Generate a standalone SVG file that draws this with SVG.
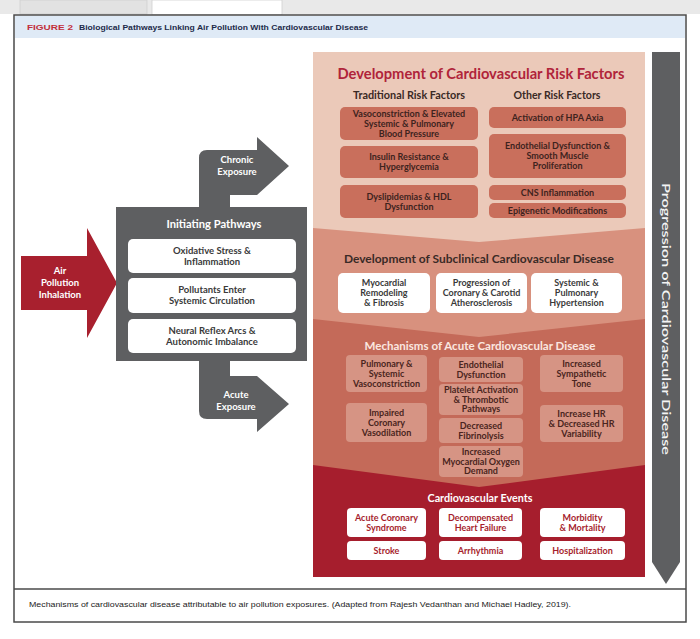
<svg xmlns="http://www.w3.org/2000/svg" width="700" height="639" viewBox="0 0 700 639">
<style>
.t{font-family:Lato,'Liberation Sans',sans-serif;font-weight:700;text-anchor:middle}
.rf{fill:#3d231e;font-size:9px}
.sc{fill:#3a3a3a;font-size:9px}
.mc{fill:#4a2520;font-size:9px}
.ev{fill:#a61e2d;font-size:9px}
.ip{fill:#3a3a3a;font-size:9.5px}
.wt{fill:#ffffff;font-size:9.5px}
.rfb{fill:#c96f5c}
.wb{fill:#ffffff}
.mb{fill:#d69484}
.gray{fill:#5e5f61}
</style>
<rect x="0" y="0" width="700" height="639" fill="#ffffff"/>
<!-- browser tab strip -->
<rect x="0" y="0" width="700" height="14" fill="#e9e9e9"/>
<rect x="20" y="0" width="127" height="14" fill="#e2e2e2" stroke="#cfcfcf" stroke-width="0.8"/>
<rect x="152" y="0" width="130" height="15" fill="#ffffff" stroke="#cfcfcf" stroke-width="0.8"/>
<!-- frame -->
<rect x="14" y="15" width="672" height="607" fill="#ffffff" stroke="#4a4a4a" stroke-width="1.5"/>
<rect x="15" y="16" width="670" height="22" fill="#dfeaf6"/>
<text x="27" y="30" font-family="'Liberation Sans',sans-serif" font-weight="700" font-size="7.5" fill="#c22f3a" textLength="46" lengthAdjust="spacingAndGlyphs">FIGURE 2</text>
<text x="79" y="30" font-family="'Liberation Sans',sans-serif" font-weight="700" font-size="8" fill="#1d2a4a" textLength="289" lengthAdjust="spacingAndGlyphs">Biological Pathways Linking Air Pollution With Cardiovascular Disease</text>
<line x1="14" y1="589" x2="686" y2="589" stroke="#4a4a4a" stroke-width="1.5"/>
<text x="29" y="607" font-family="'Liberation Sans',sans-serif" font-size="8" fill="#222222" textLength="542" lengthAdjust="spacingAndGlyphs">Mechanisms of cardiovascular disease attributable to air pollution exposures. (Adapted from Rajesh Vedanthan and Michael Hadley, 2019).</text>

<!-- bands -->
<g id="stages">
<rect x="313" y="52" width="332" height="525" fill="#a61e2d"/>
<polygon points="313,52 645,52 645,465 479,487 313,465" fill="#c46a59"/>
<polygon points="313,52 645,52 645,319 479,337 313,319" fill="#d8917e"/>
<polygon points="313,52 645,52 645,228 479,242 313,228" fill="#ebc9b9"/>
</g>

<!-- progression arrow -->
<g id="progression">
<polygon class="gray" points="652,52 680,52 680,562 666,584 652,562"/>
<text transform="translate(666,319) rotate(90)" y="4" font-family="Lato,'Liberation Sans',sans-serif" font-weight="600" text-anchor="middle" font-size="12" fill="#f4f4f4" textLength="272" lengthAdjust="spacingAndGlyphs">Progression of Cardiovascular Disease</text>
</g>

<!-- connectors (arrows) -->
<g id="connectors">
<path class="gray" d="M199,207 L199,158 Q199,150 207,150 L257,150 L257,137 L289,166 L257,195 L230,195 L230,207 Z"/>
<path class="gray" d="M199,361 L230,361 L230,376 L257,376 L289,404 L257,432 L257,419 L207,419 Q199,419 199,411 Z"/>
<path fill="#a8202e" d="M21,256 L87,256 L87,228 L117,283 L87,338 L87,310 L21,310 Z"/>
</g>
<g id="chronic-label"><text class="t wt" x="237" y="163">Chronic<tspan x="237" dy="12">Exposure</tspan></text></g>
<g id="acute-label"><text class="t wt" x="236" y="398">Acute<tspan x="236" dy="12">Exposure</tspan></text></g>
<g id="air"><text class="t wt" x="60" y="274">Air<tspan x="60" dy="12">Pollution</tspan><tspan x="60" dy="12">Inhalation</tspan></text></g>

<!-- initiating pathways -->
<g id="initiating">
<rect class="gray" x="116" y="207" width="191" height="154"/>
<text class="t" x="214" y="228" font-size="12" fill="#ffffff" textLength="95" lengthAdjust="spacingAndGlyphs">Initiating Pathways</text>
<g id="oxidative"><rect class="wb" x="128" y="239" width="168" height="34" rx="5"/><text class="t ip" x="212" y="254">Oxidative Stress &amp;<tspan x="212" dy="11">Inflammation</tspan></text></g>
<g id="pollutants"><rect class="wb" x="128" y="278" width="168" height="35" rx="5"/><text class="t ip" x="212" y="293">Pollutants Enter<tspan x="212" dy="11">Systemic Circulation</tspan></text></g>
<g id="neural"><rect class="wb" x="128" y="319" width="168" height="34" rx="5"/><text class="t ip" x="212" y="334">Neural Reflex Arcs &amp;<tspan x="212" dy="11">Autonomic Imbalance</tspan></text></g>
</g>

<!-- risk factors -->
<g id="risk-factors">
<text class="t" x="481" y="79" font-size="15" fill="#b0243a" textLength="287" lengthAdjust="spacingAndGlyphs">Development of Cardiovascular Risk Factors</text>
<text class="t" x="409" y="99" font-size="11" fill="#3a2a26" textLength="112" lengthAdjust="spacingAndGlyphs">Traditional Risk Factors</text>
<text class="t" x="557" y="99" font-size="11" fill="#3a2a26" textLength="87" lengthAdjust="spacingAndGlyphs">Other Risk Factors</text>
<g id="rf1"><rect class="rfb" x="340" y="107" width="138" height="33" rx="5"/><text class="t rf" x="409" y="117">Vasoconstriction &amp; Elevated<tspan x="409" dy="10">Systemic &amp; Pulmonary</tspan><tspan x="409" dy="10">Blood Pressure</tspan></text></g>
<g id="rf2"><rect class="rfb" x="340" y="146" width="138" height="32" rx="5"/><text class="t rf" x="409" y="160">Insulin Resistance &amp;<tspan x="409" dy="10">Hyperglycemia</tspan></text></g>
<g id="rf3"><rect class="rfb" x="340" y="185" width="138" height="33" rx="5"/><text class="t rf" x="409" y="199.5">Dyslipidemias &amp; HDL<tspan x="409" dy="10">Dysfunction</tspan></text></g>
<g id="rf4"><rect class="rfb" x="489" y="107" width="137" height="21" rx="5"/><text class="t rf" x="557.5" y="120.5">Activation of HPA Axia</text></g>
<g id="rf5"><rect class="rfb" x="489" y="134" width="137" height="44" rx="5"/><text class="t rf" x="557.5" y="149">Endothelial Dysfunction &amp;<tspan x="557.5" dy="10">Smooth Muscle</tspan><tspan x="557.5" dy="10">Proliferation</tspan></text></g>
<g id="rf6"><rect class="rfb" x="489" y="185" width="137" height="15" rx="5"/><text class="t rf" x="557.5" y="195.5">CNS Inflammation</text></g>
<g id="rf7"><rect class="rfb" x="489" y="203" width="137" height="15" rx="5"/><text class="t rf" x="557.5" y="213.5">Epigenetic Modifications</text></g>
</g>

<!-- subclinical -->
<g id="subclinical">
<text class="t" x="479" y="263" font-size="11.5" fill="#3a2a26" textLength="270" lengthAdjust="spacingAndGlyphs">Development of Subclinical Cardiovascular Disease</text>
<g id="sc1"><rect class="wb" x="338" y="273" width="92" height="40" rx="5"/><text class="t sc" x="384" y="286">Myocardial<tspan x="384" dy="10">Remodeling</tspan><tspan x="384" dy="10">&amp; Fibrosis</tspan></text></g>
<g id="sc2"><rect class="wb" x="436" y="273" width="91" height="40" rx="5"/><text class="t sc" x="481.5" y="286">Progression of<tspan x="481.5" dy="10">Coronary &amp; Carotid</tspan><tspan x="481.5" dy="10">Atherosclerosis</tspan></text></g>
<g id="sc3"><rect class="wb" x="531" y="273" width="91" height="40" rx="5"/><text class="t sc" x="576.5" y="286">Systemic &amp;<tspan x="576.5" dy="10">Pulmonary</tspan><tspan x="576.5" dy="10">Hypertension</tspan></text></g>
</g>

<!-- mechanisms -->
<g id="mechanisms">
<text class="t" x="480" y="350" font-size="12" fill="#fbe7e0" textLength="231" lengthAdjust="spacingAndGlyphs">Mechanisms of Acute Cardiovascular Disease</text>
<g id="m1"><rect class="mb" x="346" y="355" width="81" height="37" rx="4"/><text class="t mc" x="386.5" y="366.5">Pulmonary &amp;<tspan x="386.5" dy="10">Systemic</tspan><tspan x="386.5" dy="10">Vasoconstriction</tspan></text></g>
<g id="m2"><rect class="mb" x="346" y="403" width="81" height="39" rx="4"/><text class="t mc" x="386.5" y="415.5">Impaired<tspan x="386.5" dy="10">Coronary</tspan><tspan x="386.5" dy="10">Vasodilation</tspan></text></g>
<g id="m3"><rect class="mb" x="439" y="357" width="84" height="25" rx="4"/><text class="t mc" x="481" y="367.5">Endothelial<tspan x="481" dy="10">Dysfunction</tspan></text></g>
<g id="m4"><rect class="mb" x="439" y="384" width="84" height="31" rx="4"/><text class="t mc" x="481" y="393">Platelet Activation<tspan x="481" dy="9.5">&amp; Thrombotic</tspan><tspan x="481" dy="9.5">Pathways</tspan></text></g>
<g id="m5"><rect class="mb" x="439" y="418" width="84" height="25" rx="4"/><text class="t mc" x="481" y="428.5">Decreased<tspan x="481" dy="10">Fibrinolysis</tspan></text></g>
<g id="m6"><rect class="mb" x="439" y="446" width="84" height="31" rx="4"/><text class="t mc" x="481" y="455">Increased<tspan x="481" dy="9.5">Myocardial Oxygen</tspan><tspan x="481" dy="9.5">Demand</tspan></text></g>
<g id="m7"><rect class="mb" x="540" y="355" width="83" height="37" rx="4"/><text class="t mc" x="581.5" y="366.5">Increased<tspan x="581.5" dy="10">Sympathetic</tspan><tspan x="581.5" dy="10">Tone</tspan></text></g>
<g id="m8"><rect class="mb" x="540" y="405" width="83" height="37" rx="4"/><text class="t mc" x="581.5" y="416.5">Increase HR<tspan x="581.5" dy="10">&amp; Decreased HR</tspan><tspan x="581.5" dy="10">Variability</tspan></text></g>
</g>

<!-- events -->
<g id="events">
<text class="t" x="480" y="502" font-size="12" fill="#ffffff" textLength="105" lengthAdjust="spacingAndGlyphs">Cardiovascular Events</text>
<g id="e1"><rect class="wb" x="347" y="508" width="79" height="29" rx="4"/><text class="t ev" x="386.5" y="520.5">Acute Coronary<tspan x="386.5" dy="10">Syndrome</tspan></text></g>
<g id="e2"><rect class="wb" x="439" y="508" width="83" height="29" rx="4"/><text class="t ev" x="480.5" y="520.5">Decompensated<tspan x="480.5" dy="10">Heart Failure</tspan></text></g>
<g id="e3"><rect class="wb" x="540" y="508" width="85" height="29" rx="4"/><text class="t ev" x="582.5" y="520.5">Morbidity<tspan x="582.5" dy="10">&amp; Mortality</tspan></text></g>
<g id="e4"><rect class="wb" x="347" y="541" width="79" height="19" rx="4"/><text class="t ev" x="386.5" y="553.5">Stroke</text></g>
<g id="e5"><rect class="wb" x="439" y="541" width="83" height="19" rx="4"/><text class="t ev" x="480.5" y="553.5">Arrhythmia</text></g>
<g id="e6"><rect class="wb" x="540" y="541" width="85" height="19" rx="4"/><text class="t ev" x="582.5" y="553.5">Hospitalization</text></g>
</g>
</svg>
